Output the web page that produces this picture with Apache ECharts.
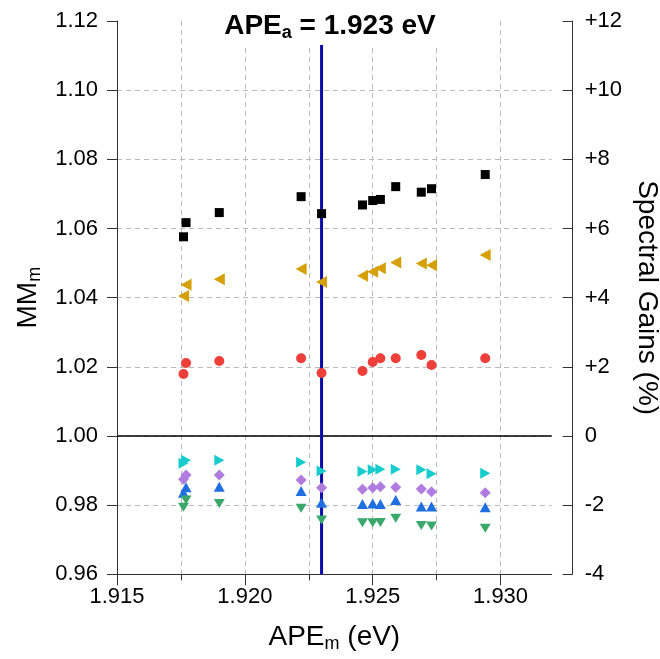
<!DOCTYPE html>
<html><head><meta charset="utf-8">
<script src="https://cdn.jsdelivr.net/npm/echarts@6/dist/echarts.min.js"></script>
<style>html,body{margin:0;padding:0;background:#fff}#c{width:660px;height:659px}</style>
</head><body><div id="c"></div>
<script>
const apeA = 1.923;
const apeM = [1.9176, 1.9177, 1.9190, 1.9222, 1.9230, 1.9246, 1.9250, 1.9253, 1.9259, 1.9269, 1.9273, 1.9294];
const squares = [1.0576, 1.0617, 1.0646, 1.0692, 1.0643, 1.0668, 1.0681, 1.0684, 1.0721, 1.0705, 1.0715, 1.0756];
const leftTri = [1.0405, 1.0437, 1.0453, 1.0483, 1.0445, 1.0463, 1.0475, 1.0485, 1.0502, 1.0499, 1.0494, 1.0523];
const circles = [1.0179, 1.0211, 1.0217, 1.0225, 1.0182, 1.0188, 1.0214, 1.0225, 1.0225, 1.0234, 1.0205, 1.0225];
const rightTri = [0.9921, 0.9930, 0.9930, 0.9924, 0.9899, 0.9897, 0.9902, 0.9904, 0.9904, 0.9902, 0.9891, 0.9892];
const diamonds = [0.9875, 0.9887, 0.9887, 0.9873, 0.9850, 0.9846, 0.9850, 0.9853, 0.9852, 0.9847, 0.9839, 0.9836];
const upTri = [0.9836, 0.9852, 0.9853, 0.9841, 0.9807, 0.9803, 0.9805, 0.9803, 0.9815, 0.9796, 0.9796, 0.9794];
const downTri = [0.9794, 0.9815, 0.9805, 0.9791, 0.9757, 0.9749, 0.9749, 0.9750, 0.9762, 0.9741, 0.9740, 0.9733];
const xMajorTicks = [1.915, 1.920, 1.925, 1.930];
const xMinorTicks = [1.9175, 1.9225, 1.9275];
const yRange = [0.96, 1.12];

const FONT = '"Liberation Sans", Arial, sans-serif';
const AX = '#333';
const chart = echarts.init(document.getElementById('c'), null, {renderer: 'canvas'});
const pts = arr => apeM.map((x, i) => [x, arr[i]]);
function sc(name, arr, symbol, size, rot, color, extra) {
  return Object.assign({
    name, type: 'scatter', xAxisIndex: 0, yAxisIndex: 0, data: pts(arr),
    symbol, symbolSize: size, symbolRotate: rot,
    itemStyle: {color, opacity: 1}, z: 5, silent: true
  }, extra || {});
}
const option = {
  animation: false,
  backgroundColor: '#fff',
  textStyle: {fontFamily: FONT},
  title: {
    text: '{b|APE}{s|a}{b| = 1.923 eV}',
    left: 'center', top: 8, z: 10,
    backgroundColor: '#fff', padding: [2, 2, 3, 2],
    textStyle: {
      rich: {
        b: {fontFamily: FONT, fontWeight: 'bold', fontSize: 28, color: '#000'},
        s: {fontFamily: FONT, fontWeight: 'bold', fontSize: 18, color: '#000', padding: [14, 0, 0, 0]}
      }
    }
  },
  grid: {left: 117, right: 108.3, top: 21, bottom: 84.7, containLabel: false, outerBoundsMode: 'none'},
  xAxis: [{
    type: 'value', min: 1.915, max: 1.932, interval: 0.005,
    position: 'bottom',
    name: '{n|APE}{s|m}{n| (eV)}', nameLocation: 'middle', nameGap: 47,
    nameTextStyle: {rich: {
      n: {fontFamily: FONT, fontSize: 28, color: '#000'},
      s: {fontFamily: FONT, fontSize: 18, color: '#000', padding: [14, 0, 0, 0]}
    }},
    axisLine: {onZero: false, lineStyle: {color: AX, width: 1}},
    axisTick: {inside: false, length: 11, customValues: xMajorTicks, lineStyle: {color: AX}},
    axisLabel: {customValues: xMajorTicks, margin: 12, fontSize: 22, color: '#000', fontFamily: FONT,
      formatter: v => v.toFixed(3)},
    splitLine: {show: true, lineStyle: {color: '#bbb', type: [5, 4], width: 1}}
  }, {
    type: 'value', min: 1.915, max: 1.932, interval: 0.0025,
    position: 'bottom', gridIndex: 0,
    axisLine: {show: false, onZero: false},
    axisTick: {inside: false, length: 6, customValues: xMinorTicks, lineStyle: {color: AX}},
    axisLabel: {show: false},
    splitLine: {show: true, lineStyle: {color: '#bbb', type: [5, 4], width: 1}}
  }],
  yAxis: [{
    type: 'value', min: yRange[0], max: yRange[1], interval: 0.02, position: 'left',
    name: '{n|MM}{s|m}', nameLocation: 'middle', nameGap: 64, nameRotate: 90,
    nameTextStyle: {rich: {
      n: {fontFamily: FONT, fontSize: 28, color: '#000'},
      s: {fontFamily: FONT, fontSize: 18, color: '#000', padding: [14, 0, 0, 0]}
    }},
    axisLine: {show: true, onZero: false, lineStyle: {color: AX, width: 1}},
    axisTick: {show: true, inside: false, length: 10, lineStyle: {color: AX}},
    axisLabel: {margin: 19, fontSize: 22, color: '#000', fontFamily: FONT, formatter: v => v.toFixed(2)},
    splitLine: {show: true, showMinLine: false, showMaxLine: false, lineStyle: {color: '#bbb', type: [5, 4], width: 1}}
  }, {
    type: 'value', min: -4, max: 12, interval: 2, position: 'right', offset: 21,
    name: 'Spectral Gains (%)', nameLocation: 'middle', nameGap: 59, nameRotate: -90,
    nameTextStyle: {fontFamily: FONT, fontSize: 28, color: '#000'},
    axisLine: {show: true, onZero: false, lineStyle: {color: AX, width: 1}},
    axisTick: {show: true, inside: true, length: 10, lineStyle: {color: AX}},
    axisLabel: {margin: 12, fontSize: 22, color: '#000', fontFamily: FONT,
      formatter: v => (v > 0 ? '+' + v : String(v))},
    splitLine: {show: false}
  }],
  series: [
    {
      name: 'zero', type: 'line', xAxisIndex: 0, yAxisIndex: 1, silent: true,
      data: [[1.915, 0], [1.932, 0]], symbol: 'none',
      lineStyle: {color: '#000', width: 1.3}, z: 3
    },
    {
      name: 'APEa', type: 'line', xAxisIndex: 0, yAxisIndex: 0, silent: true,
      data: [[apeA, yRange[0]], [apeA, yRange[1]]], symbol: 'none',
      lineStyle: {color: '#0a0aa8', width: 3}, z: 4
    },
    sc('squares', squares, 'rect', 9, 0, '#000000'),
    sc('leftTri', leftTri, 'triangle', [12, 11], 90, '#d4a003'),
    sc('circles', circles, 'circle', 10, 0, '#ee3f3a'),
    sc('rightTri', rightTri, 'triangle', [11, 10], -90, '#17cccc'),
    sc('diamonds', diamonds, 'diamond', [11, 11], 0, '#b07ce0'),
    sc('upTri', upTri, 'triangle', [11, 10], 0, '#1f6fe0'),
    sc('downTri', downTri, 'triangle', [11, 9], 180, '#3aa86a')
  ]
};
chart.setOption(option);
</script>
</body></html>
